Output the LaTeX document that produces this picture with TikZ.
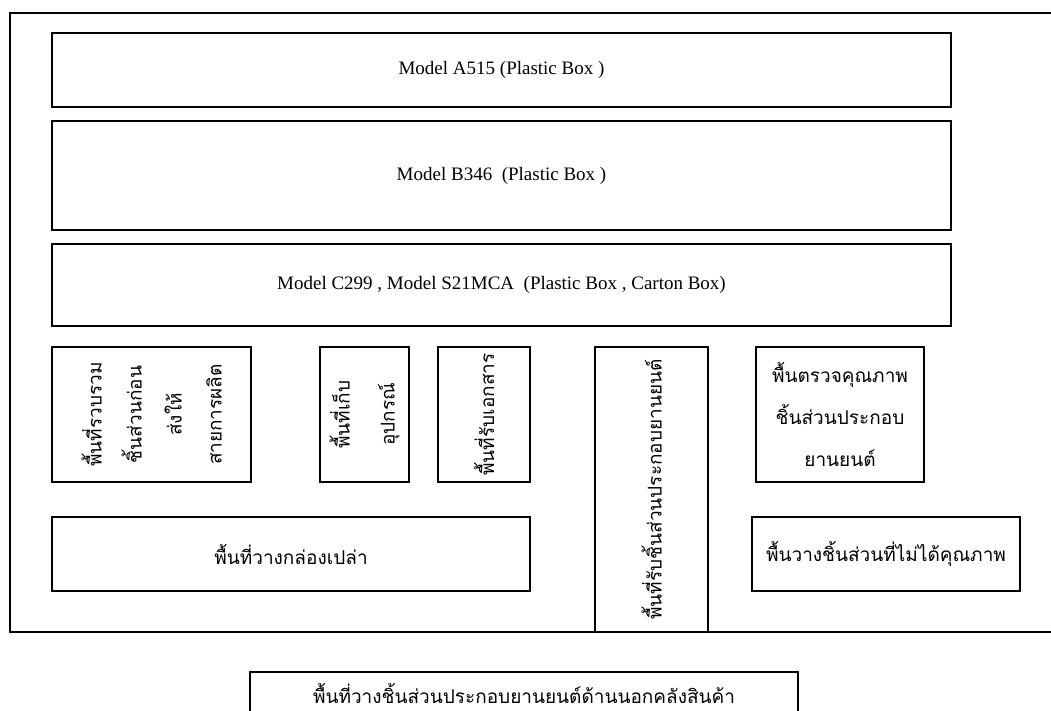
\documentclass[tikz,border=0pt]{standalone}
\usepackage{fontspec}
\setmainfont{Liberation Serif}
\newfontfamily\thai[Script=Thai]{Loma}
\begin{document}
\begin{tikzpicture}[x=1pt,y=-1pt,
  area/.style={draw, line width=1.3pt, inner sep=0pt},
  latin/.style={font=\fontsize{19}{23}\selectfont},
  thaitext/.style={font=\thai\fontsize{19}{40}\selectfont, align=center},
  upright/.style={rotate=90}]
\useasboundingbox (0,0) rectangle (1051,711);

% warehouse outline (open to the right)
\draw[line width=1.3pt] (1060,13) -- (10,13) -- (10,632) -- (1060,632);

% storage rows for the plastic boxes
\node[area, latin, minimum width=899pt, minimum height=74pt] (a515) at (501.5,70)
  {Model A515 (Plastic Box )};
\node[area, latin, minimum width=899pt, minimum height=109pt] (b346) at (501.5,175.5)
  {Model B346~ (Plastic Box )};
\node[area, latin, minimum width=899pt, minimum height=82pt] (c299) at (501.5,285)
  {Model C299 , Model S21MCA~ (Plastic Box , Carton Box)};

% working areas
\node[area, minimum width=199pt, minimum height=135pt] (collect) at (151.5,414.5) {};
\node[thaitext, upright] at (collect.center)
  {พื้นที่รวบรวม\\ชิ้นส่วนก่อน\\ส่งให้\\สายการผลิต};

\node[area, minimum width=89pt, minimum height=135pt] (tools) at (364.5,414.5) {};
\node[thaitext, upright, font=\thai\fontsize{19}{45}\selectfont] at (tools.center)
  {พื้นที่เก็บ\\อุปกรณ์};

\node[area, minimum width=92pt, minimum height=135pt] (docs) at (484,414.5) {};
\node[thaitext, upright] at (docs.center) {พื้นที่รับเอกสาร};

\node[area, minimum width=113pt, minimum height=285pt] (receive) at (651.5,489.5) {};
\node[thaitext, upright] at (receive.center) {พื้นที่รับชิ้นส่วนประกอบยานยนต์};

\node[area, thaitext, font=\thai\fontsize{19}{42}\selectfont,
  minimum width=168pt, minimum height=135pt] (qc) at (840,414.5)
  {พื้นตรวจคุณภาพ\\ชิ้นส่วนประกอบ\\ยานยนต์};

\node[area, thaitext, minimum width=478pt, minimum height=74pt] (empty) at (291,554)
  {พื้นที่วางกล่องเปล่า};

\node[area, thaitext, minimum width=268pt, minimum height=74pt] (reject) at (886,554)
  {พื้นวางชิ้นส่วนที่ไม่ได้คุณภาพ};

% area outside the warehouse
\node[area, minimum width=548pt, minimum height=58pt] (outside) at (524,701) {};
\node[thaitext] at (524,693) {พื้นที่วางชิ้นส่วนประกอบยานยนต์ด้านนอกคลังสินค้า};
\end{tikzpicture}
\end{document}
